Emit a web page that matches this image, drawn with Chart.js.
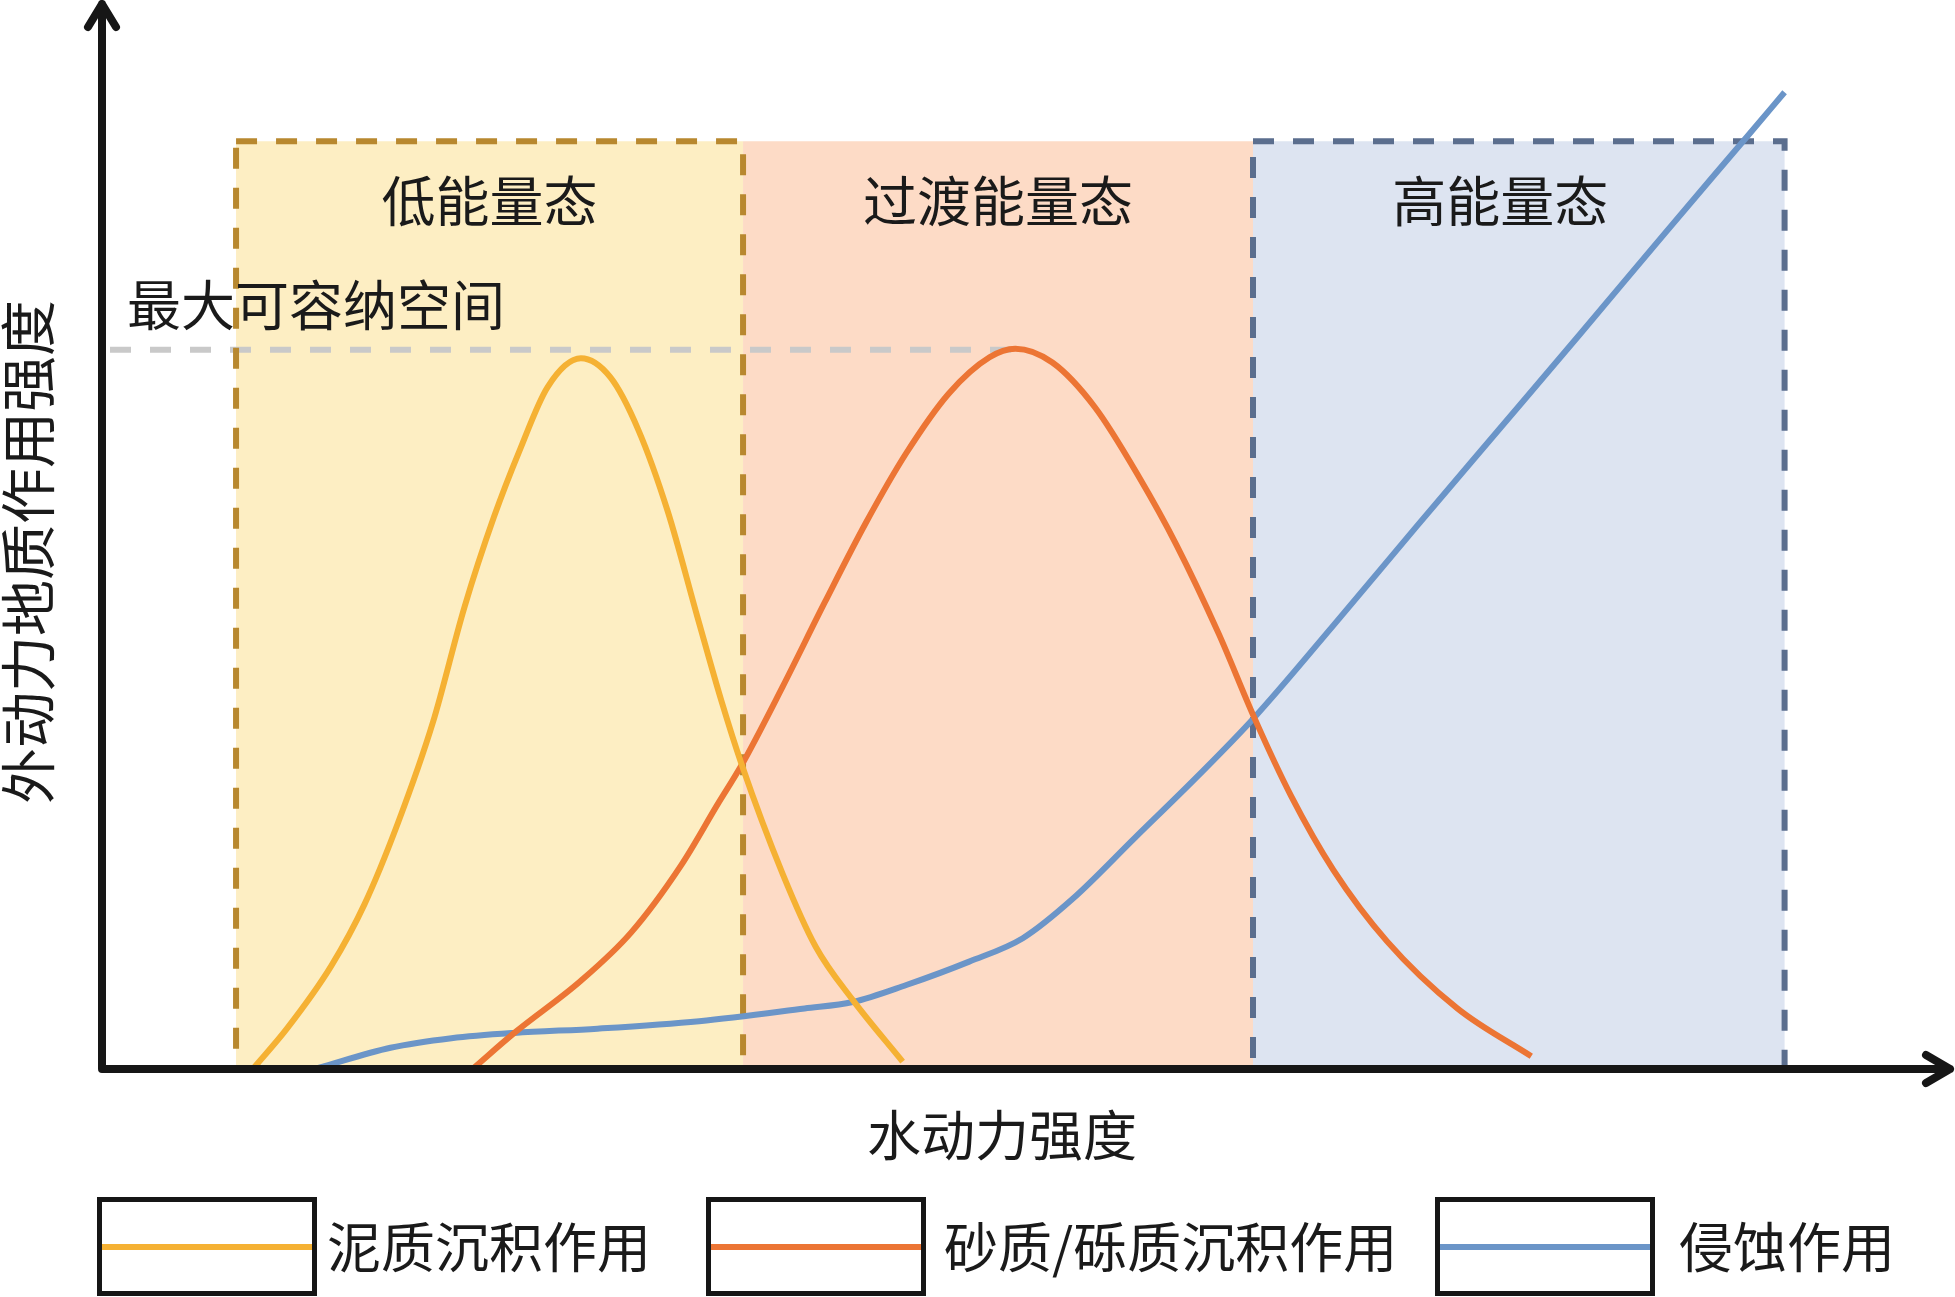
<!DOCTYPE html>
<html>
<head>
<meta charset="utf-8">
<script src="https://cdn.jsdelivr.net/npm/chart.js@4"></script>
<style>
  html, body { margin: 0; padding: 0; background: #fff; }
  #wrap { width: 1955px; height: 1297px; position: relative; }
</style>
</head>
<body>
<div id="wrap"><canvas id="energyChart"></canvas></div>
<script>
// series (x: hydrodynamic intensity 0-100, y: intensity 0-100)
const seriesNames = ['泥质沉积作用', '砂质/砾质沉积作用', '侵蚀作用'];
const seriesColors = ['#f5b133', '#ec7534', '#6b95c8'];

const mudX = [8.2, 10.0, 12.4, 14.2, 16.0, 17.9, 19.6, 21.2, 22.6, 24.1, 25.9, 27.5, 29.0, 30.6, 32.2, 33.5, 34.6, 36.8, 38.6, 40.6, 43.3];
const mudY = [0, 3.7, 9.6, 15.4, 23.0, 32.5, 43.3, 51.8, 58.1, 64.0, 66.7, 64.9, 60.0, 52.3, 42.4, 34.5, 28.5, 18.3, 11.4, 6.4, 0.6];

const sandX = [20.1, 22.3, 25.9, 28.6, 31.3, 33.3, 34.6, 36.8, 39.1, 41.3, 43.5, 45.8, 48.0, 49.4, 51.4, 53.7, 56.1, 58.1, 60.4, 62.3, 64.3, 66.6, 69.5, 73.3, 77.3];
const sandY = [0, 3.3, 8.2, 12.7, 19.0, 24.8, 28.5, 35.8, 43.8, 51.2, 57.8, 63.4, 66.8, 67.6, 66.3, 62.1, 55.5, 49.2, 40.8, 33.0, 25.6, 18.6, 11.9, 5.6, 1.1];

const erosionX = [11.7, 15.6, 18.9, 22.3, 26.8, 32.3, 38.0, 40.6, 43.5, 46.9, 49.8, 52.5, 55.9, 59.3, 62.3, 66.6, 71.1, 75.6, 80.0, 84.5, 89.0, 91.0];
const erosionY = [0, 1.9, 2.8, 3.3, 3.7, 4.4, 5.6, 6.2, 7.8, 10.0, 12.2, 15.9, 21.7, 27.5, 32.9, 41.6, 50.9, 60.1, 69.1, 78.4, 87.6, 91.7];

// energy states
const stateNames = ['低能量态', '过渡能量态', '高能量态'];
const stateBounds = [7.25, 34.67, 62.25, 91.0];
const stateTop = 87.1;
const stateFills = ['#fdeec3', '#fddbc6', '#dde4f1'];
const stateBorders = ['#b8882f', null, '#5b6e8e'];

// maximum accommodation space
const maxSpaceLabel = '最大可容纳空间';
const maxSpaceLevel = 67.5;
const maxSpaceEnd = 49.6;

const xTitle = '水动力强度';
const yTitle = '外动力地质作用强度';

const FONT = '"Noto Sans CJK SC", "Noto Sans", sans-serif';

function toPoints(xs, ys) {
  return xs.map((x, i) => ({ x: x, y: ys[i] }));
}

const statesPlugin = {
  id: 'states',
  beforeDatasetsDraw(chart) {
    const { ctx, scales: { x, y } } = chart;
    const top = y.getPixelForValue(stateTop);
    const bottom = y.getPixelForValue(0);
    ctx.save();
    // fills
    for (let i = 0; i < stateNames.length; i++) {
      const l = x.getPixelForValue(stateBounds[i]);
      const r = x.getPixelForValue(stateBounds[i + 1]);
      ctx.fillStyle = stateFills[i];
      ctx.fillRect(l, top, r - l, bottom - top);
    }
    // grey dashed line for max space
    ctx.setLineDash([21, 19]);
    ctx.lineWidth = 6;
    ctx.strokeStyle = '#c9c9c9';
    const gy = y.getPixelForValue(maxSpaceLevel);
    ctx.beginPath();
    ctx.moveTo(x.getPixelForValue(0) + 8, gy);
    ctx.lineTo(x.getPixelForValue(maxSpaceEnd), gy);
    ctx.stroke();
    // dashed borders
    for (let i = 0; i < stateNames.length; i++) {
      if (!stateBorders[i]) continue;
      const l = x.getPixelForValue(stateBounds[i]);
      const r = x.getPixelForValue(stateBounds[i + 1]);
      ctx.strokeStyle = stateBorders[i];
      ctx.lineWidth = 6;
      ctx.setLineDash([21, 19]);
      ctx.strokeRect(l, top, r - l, bottom - top);
    }
    ctx.restore();
  },
  afterDatasetsDraw(chart) {
    const { ctx, scales: { x, y } } = chart;
    const top = y.getPixelForValue(stateTop);
    const anchor = [0.5, 0.5, 0.465];
    ctx.save();
    ctx.fillStyle = '#1a1a1a';
    ctx.font = '54px ' + FONT;
    ctx.textAlign = 'center';
    ctx.textBaseline = 'middle';
    for (let i = 0; i < stateNames.length; i++) {
      const l = x.getPixelForValue(stateBounds[i]);
      const r = x.getPixelForValue(stateBounds[i + 1]);
      ctx.fillText(stateNames[i], l + (r - l) * anchor[i], top + 60);
    }
    ctx.textAlign = 'left';
    ctx.fillText(maxSpaceLabel, 127, y.getPixelForValue(maxSpaceLevel) - 44);

    // axes with open arrow heads
    const ox = x.getPixelForValue(0);
    const oy = y.getPixelForValue(0) + 1;
    ctx.strokeStyle = '#161616';
    ctx.lineWidth = 8;
    ctx.lineCap = 'round';
    ctx.lineJoin = 'round';
    ctx.beginPath();
    ctx.moveTo(ox, oy);
    ctx.lineTo(ox, 4);
    ctx.moveTo(ox - 14, 27);
    ctx.lineTo(ox, 4);
    ctx.lineTo(ox + 14, 27);
    ctx.moveTo(ox, oy);
    ctx.lineTo(1950, oy);
    ctx.moveTo(1926, oy - 14);
    ctx.lineTo(1950, oy);
    ctx.lineTo(1926, oy + 14);
    ctx.stroke();

    // axis titles
    ctx.fillStyle = '#1a1a1a';
    ctx.font = '54px ' + FONT;
    ctx.textAlign = 'center';
    ctx.textBaseline = 'middle';
    ctx.fillText(xTitle, 1002, 1135);
    ctx.translate(28, 552);
    ctx.rotate(-Math.PI / 2);
    ctx.font = '56px ' + FONT;
    ctx.fillText(yTitle, 0, 0);
    ctx.restore();

    // legend: framed swatch boxes
    const boxLeft = [99, 708, 1437];
    const textLeft = [327, 944, 1679];
    ctx.save();
    chart.data.datasets.forEach((ds, i) => {
      ctx.strokeStyle = '#161616';
      ctx.lineWidth = 5;
      ctx.strokeRect(boxLeft[i] + 0.5, 1199.5, 215, 94);
      ctx.strokeStyle = ds.borderColor;
      ctx.lineWidth = 6;
      ctx.beginPath();
      ctx.moveTo(boxLeft[i] + 3, 1247);
      ctx.lineTo(boxLeft[i] + 213, 1247);
      ctx.stroke();
      ctx.fillStyle = '#1a1a1a';
      ctx.font = '54px ' + FONT;
      ctx.textAlign = 'left';
      ctx.textBaseline = 'middle';
      ctx.fillText(ds.label, textLeft[i], 1247);
    });
    ctx.restore();
  }
};

const ctx = document.getElementById('energyChart').getContext('2d');
new Chart(ctx, {
  type: 'line',
  data: {
    datasets: [
      { label: seriesNames[0], data: toPoints(mudX, mudY), borderColor: seriesColors[0] },
      { label: seriesNames[1], data: toPoints(sandX, sandY), borderColor: seriesColors[1] },
      { label: seriesNames[2], data: toPoints(erosionX, erosionY), borderColor: seriesColors[2] }
    ]
  },
  options: {
    responsive: true,
    maintainAspectRatio: false,
    animation: false,
    layout: { padding: { left: 102, right: 4, top: 4, bottom: 229 } },
    elements: {
      line: { borderWidth: 6, cubicInterpolationMode: 'monotone', fill: false },
      point: { radius: 0, hoverRadius: 0 }
    },
    scales: {
      x: { type: 'linear', min: 0, max: 100, display: false },
      y: { type: 'linear', min: 0, max: 100, display: false }
    },
    plugins: {
      legend: { display: false },
      tooltip: { enabled: false }
    }
  },
  plugins: [statesPlugin]
});
</script>
</body>
</html>
